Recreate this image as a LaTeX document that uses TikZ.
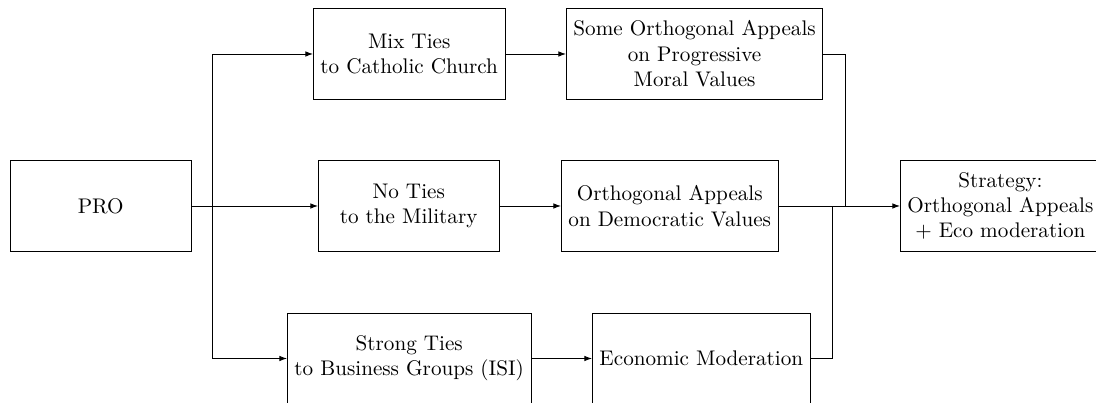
\documentclass[tikz,border=0pt]{standalone}
\usetikzlibrary{arrows.meta}
\begin{document}
\begin{tikzpicture}[x=0.4728pt,y=-0.4728pt,
  box/.style={draw, align=center, minimum width=3cm, minimum height=1.5cm, inner sep=3.33pt},
  conn/.style={-{Latex[length=3.6pt,width=2.6pt]}}]
\useasboundingbox (0,0) rectangle (1096,403);
\clip (0,0) rectangle (1096,403);
% nodes
\node[box, anchor=west] (pro) at (10,206) {PRO};
\node[box, anchor=west] (mix) at (313,54) {Mix Ties\\to Catholic Church};
\node[box, anchor=west] (some) at (566,54) {Some Orthogonal Appeals\\on Progressive\\Moral Values};
\node[box, anchor=west] (noties) at (318,206) {No Ties\\to the Military};
\node[box, anchor=west] (dem) at (561,206) {Orthogonal Appeals\\on Democratic Values};
\node[box, anchor=west] (strat) at (900,206) {Strategy:\\Orthogonal Appeals\\+ Eco moderation};
\node[box, anchor=west] (strong) at (287,358.5) {Strong Ties\\to Business Groups (ISI)};
\node[box, anchor=west] (econ) at (592,358.5) {Economic Moderation};
% junctions
\coordinate (split) at (212,206);
\coordinate (jsome) at (845,206);
\coordinate (jecon) at (832,206);
% connectors
\draw[conn] (pro.east) -- (split) |- (mix.west);
\draw[conn] (pro.east) -- (noties.west);
\draw[conn] (pro.east) -- (split) |- (strong.west);
\draw[conn] (mix.east) -- (some.west);
\draw[conn] (noties.east) -- (dem.west);
\draw[conn] (strong.east) -- (econ.west);
\draw[conn] (dem.east) -- (strat.west);
\draw (some.east) -| (jsome);
\draw (econ.east) -| (jecon);
\end{tikzpicture}
\end{document}
